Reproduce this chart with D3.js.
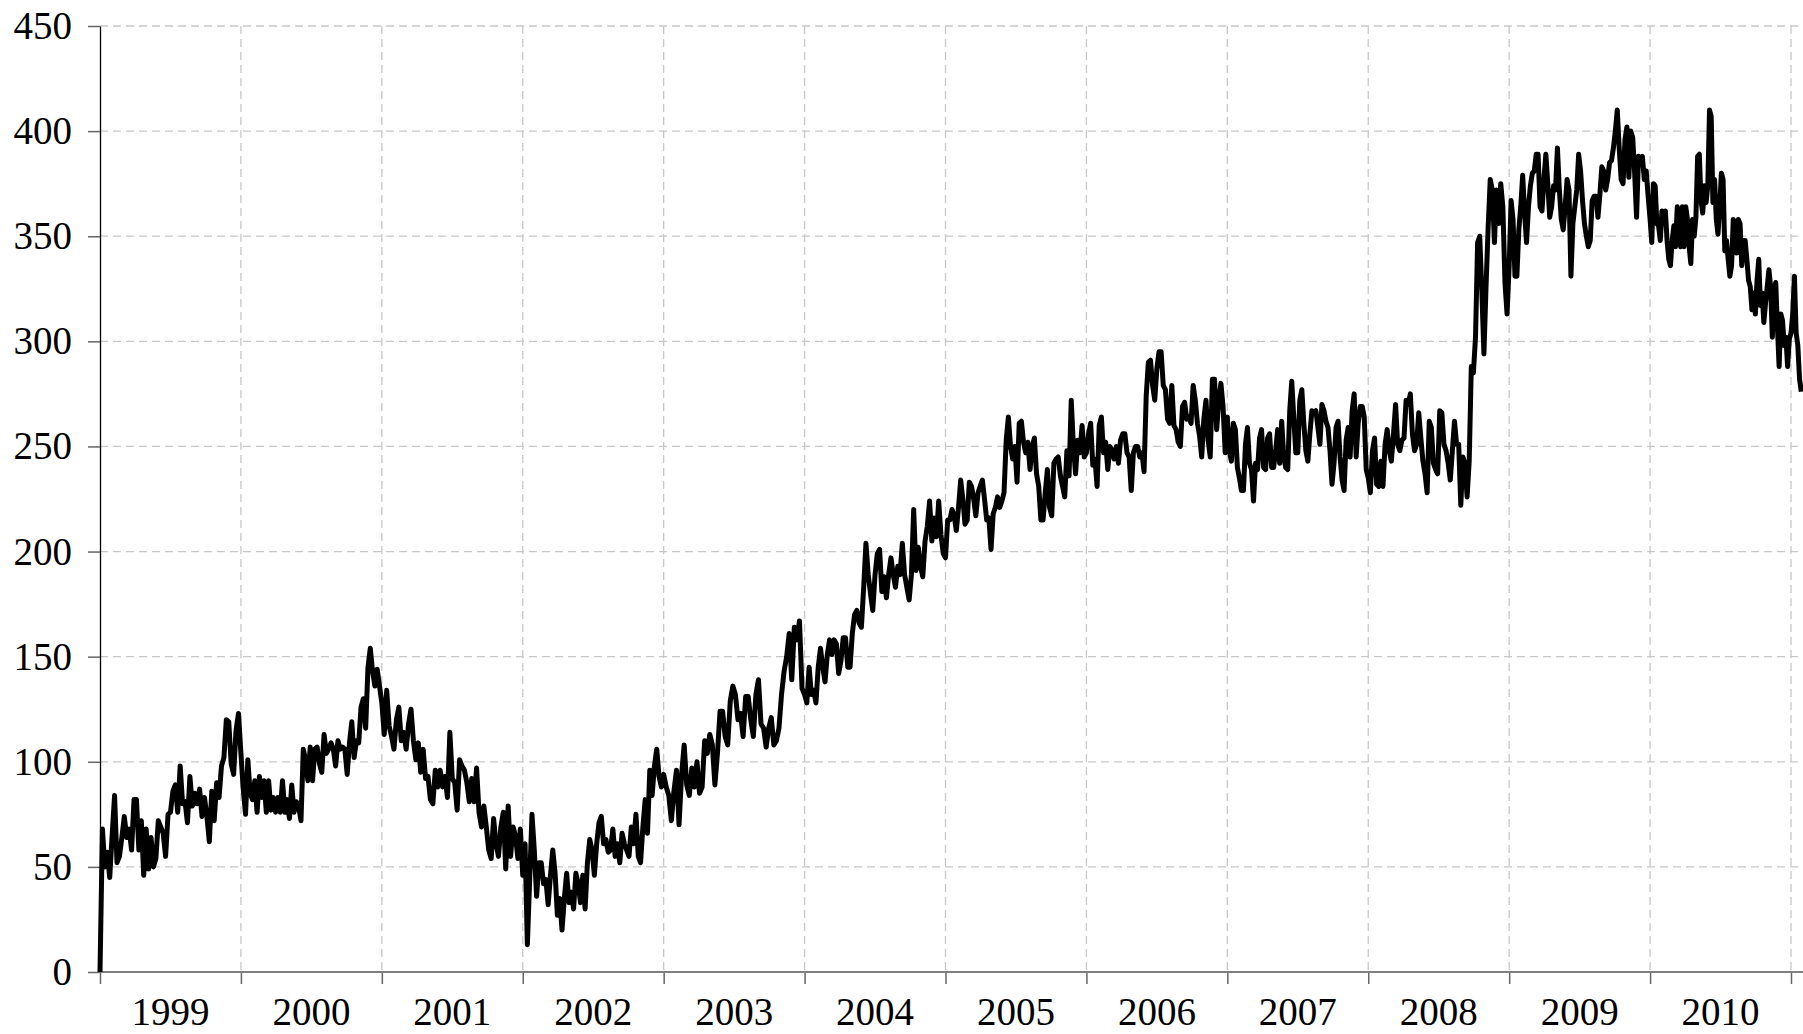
<!DOCTYPE html>
<html lang="en">
<head>
<meta charset="UTF-8">
<title>Weekly series 1999-2011</title>
<style>
    body {
        margin: 0;
        background-color: #fff;
    }
    text {
        font-family: 'Liberation Serif', 'Times New Roman', serif;
        font-size: 39px;
        fill: #000;
    }
    .grid line {
        stroke: #c8c8c8;
        stroke-width: 1.3;
        stroke-dasharray: 8, 5;
    }
    .axis .tick line {
        stroke: #666;
        stroke-width: 1.5;
    }
    .series {
        fill: none;
        stroke: #000;
        stroke-width: 5;
        stroke-linejoin: round;
    }
</style>
</head>
<body>
<div id="chart"></div>
<script src="https://cdn.jsdelivr.net/npm/d3@7/dist/d3.min.js"></script>
<script>
// values, spread evenly over each year
var years = [1999, 2000, 2001, 2002, 2003, 2004, 2005, 2006, 2007, 2008, 2009, 2010, 2011];

var v1999 = [0, 68, 50, 57, 45, 65, 84, 52, 55, 64, 74, 64, 68, 58, 82, 82, 58, 72, 46, 68, 49, 64, 50, 54, 72, 69, 66, 55, 75, 76, 86, 89, 76, 98, 80, 81, 71, 93, 79, 85, 80, 87, 74, 83, 74, 62, 86, 72, 90, 83, 98, 102, 120, 119, 99, 94, 115, 123];
var v2000 = [104, 87, 75, 101, 85, 82, 91, 76, 93, 83, 91, 76, 91, 77, 83, 76, 83, 76, 91, 76, 82, 73, 89, 76, 81, 79, 72, 106, 101, 91, 107, 91, 106, 107, 99, 95, 113, 104, 106, 109, 106, 98, 110, 106, 107, 106, 94, 109, 119, 102, 110, 109, 126, 130, 116, 145, 154, 143, 136, 144, 136];
var v2001 = [128, 113, 134, 117, 112, 106, 120, 126, 110, 114, 106, 118, 125, 110, 101, 109, 95, 106, 92, 93, 82, 80, 96, 88, 96, 88, 93, 83, 114, 92, 90, 77, 101, 98, 96, 90, 81, 92, 81, 97, 76, 69, 79, 69, 58, 54, 73, 61, 55, 69, 76, 49, 79, 55, 69, 65, 54, 68];
var v2002 = [46, 61, 13, 44, 75, 58, 36, 52, 52, 42, 44, 32, 46, 58, 47, 27, 35, 20, 35, 47, 33, 38, 30, 47, 42, 33, 46, 30, 52, 63, 58, 46, 61, 71, 74, 61, 63, 57, 58, 68, 55, 61, 52, 66, 61, 58, 55, 69, 61, 75, 55, 52, 69, 82, 66, 96, 84, 98, 106, 93, 88];
var v2003 = [94, 88, 84, 72, 86, 96, 70, 94, 108, 89, 84, 97, 88, 100, 85, 88, 110, 104, 113, 108, 89, 104, 124, 124, 112, 108, 129, 136, 132, 120, 123, 112, 131, 131, 120, 112, 132, 139, 118, 116, 107, 116, 121, 108, 110, 116, 132, 143, 150, 161, 139, 164, 158, 167, 135];
var v2004 = [132, 128, 145, 132, 134, 128, 145, 154, 145, 138, 151, 158, 151, 158, 156, 142, 148, 159, 159, 145, 145, 161, 170, 172, 166, 164, 183, 204, 189, 180, 172, 189, 199, 201, 181, 188, 178, 189, 197, 189, 183, 193, 189, 204, 189, 183, 177, 189, 220, 191, 202, 193, 188, 205, 212, 224, 205, 216, 207, 224, 208, 199];
var v2005 = [197, 215, 215, 220, 217, 210, 221, 234, 225, 213, 215, 233, 231, 225, 217, 228, 231, 234, 225, 215, 216, 201, 218, 221, 226, 221, 224, 228, 253, 264, 250, 244, 250, 233, 261, 262, 252, 247, 252, 239, 250, 254, 237, 231, 215, 215, 228, 239, 221, 217, 242, 244, 245, 236, 231, 226, 248, 236, 272, 250, 237, 253, 247, 260, 245];
var v2006 = [247, 256, 261, 241, 244, 231, 260, 264, 247, 252, 239, 250, 248, 244, 250, 242, 253, 256, 256, 247, 245, 229, 247, 250, 250, 245, 247, 238, 274, 290, 291, 279, 272, 287, 295, 295, 279, 277, 263, 261, 279, 260, 258, 252, 250, 269, 271, 263, 264, 261, 279, 272, 261, 255, 245, 263, 272, 253, 245, 282, 282, 258, 272, 280, 269, 247];
var v2007 = [264, 248, 243, 261, 258, 240, 235, 229, 229, 251, 259, 242, 239, 224, 242, 239, 254, 258, 240, 239, 254, 256, 240, 240, 248, 258, 242, 262, 245, 240, 239, 267, 281, 264, 247, 247, 272, 277, 261, 248, 243, 256, 267, 266, 267, 259, 251, 270, 267, 262, 259, 248, 232, 242, 259, 262, 245, 234, 229, 253, 259, 245, 267, 275, 245, 261, 269, 269, 264, 239];
var v2008 = [235, 228, 248, 254, 232, 231, 243, 231, 251, 258, 248, 243, 256, 270, 251, 248, 253, 254, 272, 270, 275, 256, 248, 251, 266, 254, 243, 237, 228, 262, 259, 242, 239, 237, 267, 266, 251, 248, 242, 234, 248, 262, 251, 251, 222, 245, 242, 226, 243, 288, 285, 302, 347, 350, 324, 294, 326, 354, 377, 372, 347, 372, 356, 375, 364, 328, 313];
var v2009 = [336, 367, 358, 331, 331, 353, 364, 379, 361, 347, 364, 374, 380, 381, 389, 389, 364, 362, 377, 389, 375, 359, 364, 374, 372, 392, 372, 358, 353, 364, 377, 372, 331, 356, 364, 372, 389, 381, 367, 356, 350, 345, 348, 367, 369, 369, 359, 370, 383, 381, 372, 377, 385, 386, 392, 400, 410, 392, 377, 375, 396, 402, 378, 400, 397, 380, 359, 388, 385, 388, 377, 381, 369];
var v2010 = [358, 347, 375, 374, 356, 355, 348, 362, 358, 362, 348, 339, 336, 348, 355, 345, 364, 355, 345, 364, 345, 364, 358, 345, 337, 358, 350, 359, 388, 389, 367, 361, 374, 366, 374, 410, 407, 366, 377, 358, 351, 364, 380, 377, 343, 348, 339, 331, 336, 358, 356, 342, 358, 356, 336, 348, 348, 339, 329, 326, 315, 323, 313, 329, 339, 317, 323, 309, 318, 326, 334, 326, 302, 323, 328, 307, 288, 313, 310, 298, 302, 288, 301];
var v2011 = [304, 313, 331, 304, 298, 282, 276];

var yearValues = [v1999, v2000, v2001, v2002, v2003, v2004, v2005, v2006, v2007, v2008, v2009, v2010, v2011];
// share of each year that the series covers (it stops early in 2011)
var yearSpan = [1, 1, 1, 1, 1, 1, 1, 1, 1, 1, 1, 1, 0.085];

var yTicks = [0, 50, 100, 150, 200, 250, 300, 350, 400, 450];
var xTicks = [1999, 2000, 2001, 2002, 2003, 2004, 2005, 2006, 2007, 2008, 2009, 2010, 2011];
var xLabels = ["1999", "2000", "2001", "2002", "2003", "2004", "2005", "2006", "2007", "2008", "2009", "2010"];

var width = 1803, height = 1034;
var margin = {top: 26, right: 12, bottom: 62, left: 100};

var x = d3.scaleLinear()
    .domain([1999, 2011])
    .range([margin.left, 1791]);

var y = d3.scaleLinear()
    .domain([0, 450])
    .range([height - margin.bottom, margin.top]);

var data = [];
years.forEach(function (yr, k) {
    var vals = yearValues[k];
    vals.forEach(function (v, i) {
        data.push({t: yr + yearSpan[k] * i / vals.length, v: v});
    });
});

var svg = d3.select("#chart").append("svg")
    .attr("width", width)
    .attr("height", height);

// gridlines
var grid = svg.append("g").attr("class", "grid");
grid.selectAll(".h")
    .data(yTicks.filter(function (d) { return d > 0; }))
    .enter().append("line")
    .attr("x1", margin.left)
    .attr("x2", width)
    .attr("y1", function (d) { return y(d); })
    .attr("y2", function (d) { return y(d); });
grid.selectAll(".v")
    .data(xTicks.slice(1))
    .enter().append("line")
    .attr("x1", function (d) { return x(d); })
    .attr("x2", function (d) { return x(d); })
    .attr("y1", y(450))
    .attr("y2", y(0));

// y axis
var yAxis = svg.append("g")
    .attr("class", "axis")
    .attr("transform", "translate(" + margin.left + ",0)")
    .call(d3.axisLeft(y).tickValues(yTicks).tickSize(12).tickSizeOuter(0).tickPadding(16));
yAxis.select(".domain").attr("stroke", "#000").attr("stroke-width", 1.3);
yAxis.selectAll("text").style("font-size", "39px").attr("fill", "#000");

// x axis
var xAxis = svg.append("g")
    .attr("class", "axis")
    .attr("transform", "translate(0," + y(0) + ")")
    .call(d3.axisBottom(x).tickValues(xTicks).tickSize(12).tickFormat(""));
xAxis.select(".domain").remove();
xAxis.append("line")
    .attr("x1", margin.left)
    .attr("x2", width)
    .attr("stroke", "#808080")
    .attr("stroke-width", 2);

svg.append("g")
    .selectAll("text")
    .data(xLabels)
    .enter().append("text")
    .attr("x", function (d) { return x(+d + 0.5); })
    .attr("y", 1025)
    .attr("text-anchor", "middle")
    .text(function (d) { return d; });

// series
var line = d3.line()
    .x(function (d) { return x(d.t); })
    .y(function (d) { return y(d.v); });

svg.append("path")
    .datum(data)
    .attr("class", "series")
    .attr("d", line);
</script>
</body>
</html>
